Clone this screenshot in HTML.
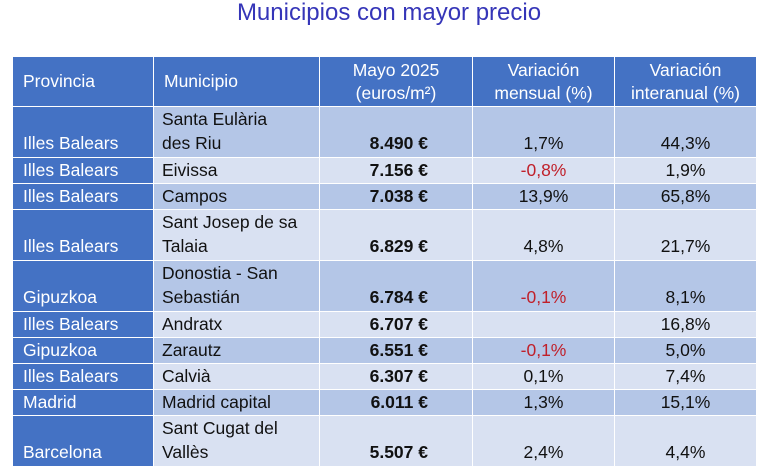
<!DOCTYPE html>
<html><head><meta charset="utf-8"><style>
body{margin:0;width:767px;height:471px;background:#fff;font-family:"Liberation Sans",sans-serif;position:relative;overflow:hidden}
#title{position:absolute;left:0;width:778px;top:-1px;text-align:center;font-size:24px;color:#3535b8;line-height:28px}
table{position:absolute;left:12px;top:56px;border-collapse:collapse;table-layout:fixed;font-size:17.5px;color:#111}
td,th{border:1.5px solid #fff;padding:0 0 2px 0;vertical-align:bottom;line-height:22px;font-weight:normal;box-sizing:border-box;white-space:nowrap}
th{background:#4472c4;color:#fff;height:50px;vertical-align:middle;line-height:23px;padding:0}
td.p{background:#4472c4;color:#fff;padding-left:10px;text-align:left}
th.l{text-align:left;padding-left:10px}
td.m{padding-left:8px}
td.v{text-align:right;padding-right:44px;font-weight:bold}
td.c{text-align:center}
tr.a td:not(.p){background:#b4c6e7}
tr.b td:not(.p){background:#d9e1f2}
.neg{color:#c0202a}
tr.s td{height:26px}
tr.d td{height:51px;line-height:24px}
</style></head><body>
<div id="title">Municipios con mayor precio</div>
<table>
<colgroup><col style="width:141px"><col style="width:166px"><col style="width:153px"><col style="width:142px"><col style="width:142px"></colgroup>
<tr><th class="l">Provincia</th><th class="l">Municipio</th><th>Mayo 2025<br>(euros/m²)</th><th>Variación<br>mensual (%)</th><th>Variación<br>interanual (%)</th></tr>
<tr class="a d"><td class="p">Illes Balears</td><td class="m">Santa Eulària<br>des Riu</td><td class="v">8.490 €</td><td class="c">1,7%</td><td class="c">44,3%</td></tr>
<tr class="b s"><td class="p">Illes Balears</td><td class="m">Eivissa</td><td class="v">7.156 €</td><td class="c neg">-0,8%</td><td class="c">1,9%</td></tr>
<tr class="a s"><td class="p">Illes Balears</td><td class="m">Campos</td><td class="v">7.038 €</td><td class="c">13,9%</td><td class="c">65,8%</td></tr>
<tr class="b d"><td class="p">Illes Balears</td><td class="m">Sant Josep de sa<br>Talaia</td><td class="v">6.829 €</td><td class="c">4,8%</td><td class="c">21,7%</td></tr>
<tr class="a d"><td class="p">Gipuzkoa</td><td class="m">Donostia - San<br>Sebastián</td><td class="v">6.784 €</td><td class="c neg">-0,1%</td><td class="c">8,1%</td></tr>
<tr class="b s"><td class="p">Illes Balears</td><td class="m">Andratx</td><td class="v">6.707 €</td><td class="c"></td><td class="c">16,8%</td></tr>
<tr class="a s"><td class="p">Gipuzkoa</td><td class="m">Zarautz</td><td class="v">6.551 €</td><td class="c neg">-0,1%</td><td class="c">5,0%</td></tr>
<tr class="b s"><td class="p">Illes Balears</td><td class="m">Calvià</td><td class="v">6.307 €</td><td class="c">0,1%</td><td class="c">7,4%</td></tr>
<tr class="a s"><td class="p">Madrid</td><td class="m">Madrid capital</td><td class="v">6.011 €</td><td class="c">1,3%</td><td class="c">15,1%</td></tr>
<tr class="b d"><td class="p">Barcelona</td><td class="m">Sant Cugat del<br>Vallès</td><td class="v">5.507 €</td><td class="c">2,4%</td><td class="c">4,4%</td></tr>
</table>
</body></html>
